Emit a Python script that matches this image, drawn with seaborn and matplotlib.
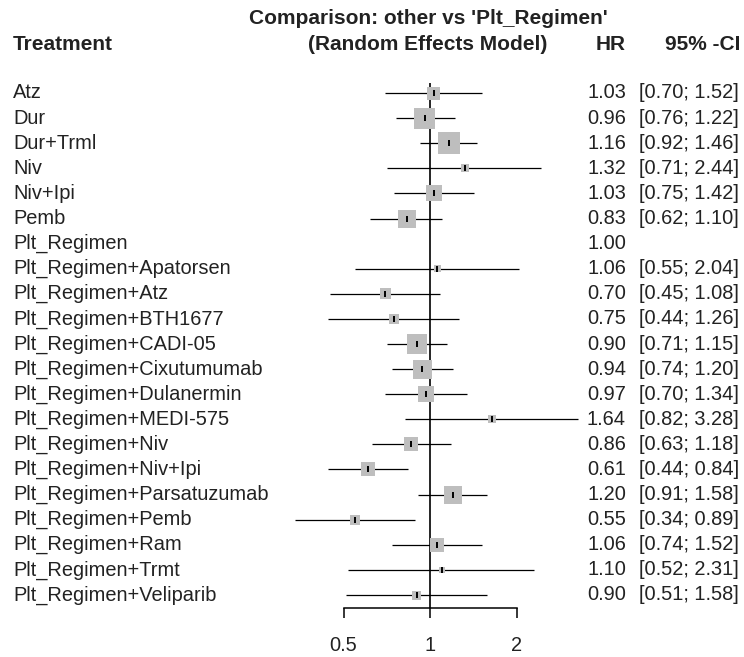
import matplotlib
matplotlib.use('Agg')
import matplotlib.pyplot as plt
import matplotlib.transforms as mtransforms
import seaborn as sns
import pandas as pd

treatments = ['Atz', 'Dur', 'Dur+Trml', 'Niv', 'Niv+Ipi', 'Pemb', 'Plt_Regimen',
              'Plt_Regimen+Apatorsen', 'Plt_Regimen+Atz', 'Plt_Regimen+BTH1677',
              'Plt_Regimen+CADI-05', 'Plt_Regimen+Cixutumumab', 'Plt_Regimen+Dulanermin',
              'Plt_Regimen+MEDI-575', 'Plt_Regimen+Niv', 'Plt_Regimen+Niv+Ipi',
              'Plt_Regimen+Parsatuzumab', 'Plt_Regimen+Pemb', 'Plt_Regimen+Ram',
              'Plt_Regimen+Trmt', 'Plt_Regimen+Veliparib']
hr = [1.03, 0.96, 1.16, 1.32, 1.03, 0.83, 1.00, 1.06, 0.70, 0.75, 0.90, 0.94, 0.97,
      1.64, 0.86, 0.61, 1.20, 0.55, 1.06, 1.10, 0.90]
lower = [0.70, 0.76, 0.92, 0.71, 0.75, 0.62, None, 0.55, 0.45, 0.44, 0.71, 0.74, 0.70,
         0.82, 0.63, 0.44, 0.91, 0.34, 0.74, 0.52, 0.51]
upper = [1.52, 1.22, 1.46, 2.44, 1.42, 1.10, None, 2.04, 1.08, 1.26, 1.15, 1.20, 1.34,
         3.28, 1.18, 0.84, 1.58, 0.89, 1.52, 2.31, 1.58]
# relative study weight (drives the box size)
weight = [13, 21, 22, 8, 16, 18, 0, 7, 11, 10, 20, 19, 16, 8, 14, 14, 18, 10, 14, 6, 9]
axis_ticks = [0.5, 1, 2]

df = pd.DataFrame({'treatment': treatments, 'hr': hr, 'lower': lower,
                   'upper': upper, 'weight': weight})
df['row'] = range(len(df))

sns.set_style('white')
plt.rcParams['font.family'] = ['Liberation Sans', 'DejaVu Sans']

W, H, DPI = 744, 657, 100
fig = plt.figure(figsize=(W / DPI, H / DPI), dpi=DPI)
ax = fig.add_axes([257 / W, (H - 608) / H, 346 / W, (608 - 83) / H])

ax.set_xscale('log')
ax.set_xlim(0.25, 4)
ax.set_ylim(20 + (608 - 595) / 25.1, -(93 - 83) / 25.1)

ci = df.dropna(subset=['lower'])
ax.hlines(ci['row'], ci['lower'], ci['upper'], color='black', lw=0.9, zorder=2)
ax.axvline(1, color='black', lw=1.2, zorder=1)

boxes = df[df['weight'] > 0].copy()
boxes['size'] = (boxes['weight'] * 72 / DPI) ** 2
sns.scatterplot(data=boxes, x='hr', y='row', size='size',
                sizes=(boxes['size'].min(), boxes['size'].max()),
                marker='s', color='#bebebe', edgecolor='none', legend=False, ax=ax, zorder=3)
ax.plot(boxes['hr'], boxes['row'], linestyle='none', marker='|', color='black',
        markersize=5, mew=1.4, zorder=4)

for s in ['top', 'right', 'left']:
    ax.spines[s].set_visible(False)
ax.spines['bottom'].set_bounds(axis_ticks[0], axis_ticks[-1])
ax.spines['bottom'].set_linewidth(1.1)
ax.spines['bottom'].set_color('black')
ax.set_xticks(axis_ticks)
ax.set_xticklabels([f'{t:g}' for t in axis_ticks])
ax.minorticks_off()
ax.tick_params(axis='x', bottom=True, direction='out', length=7.5, width=1.1,
               labelsize=14.4, pad=13, color='black', labelcolor='#222222')
ax.set_yticks([])
ax.set_xlabel('')
ax.set_ylabel('')
ax.patch.set_alpha(0)

# text columns: figure x, data y
trans = mtransforms.blended_transform_factory(fig.transFigure, ax.transData)
fs = 14.4
hfs = 15
for _, r in df.iterrows():
    ax.text(13 / W, r['row'], r['treatment'], transform=trans, ha='left', va='center',
            fontsize=fs, color='#222222')
    ax.text(626 / W, r['row'], f"{r['hr']:.2f}", transform=trans, ha='right',
            va='center', fontsize=fs, color='#222222')
    if pd.notna(r['lower']):
        ax.text(739 / W, r['row'], f"[{r['lower']:.2f}; {r['upper']:.2f}]", transform=trans,
                ha='right', va='center', fontsize=fs, color='#222222')

fig.text(13 / W, 1 - 45 / H, 'Treatment', ha='left', va='center', fontsize=hfs,
         fontweight='bold', color='#222222')
fig.text(428 / W, 1 - 19 / H, "Comparison: other vs 'Plt_Regimen'", ha='center',
         va='center', fontsize=hfs, fontweight='bold', color='#222222')
fig.text(428 / W, 1 - 45 / H, '(Random Effects Model)', ha='center', va='center',
         fontsize=hfs, fontweight='bold', color='#222222')
fig.text(626 / W, 1 - 45 / H, 'HR', ha='right', va='center', fontsize=hfs,
         fontweight='bold', color='#222222')
fig.text(740 / W, 1 - 45 / H, '95% -CI', ha='right', va='center', fontsize=hfs,
         fontweight='bold', color='#222222')

fig.savefig('out.png', dpi=DPI, facecolor='white')
plt.close(fig)
